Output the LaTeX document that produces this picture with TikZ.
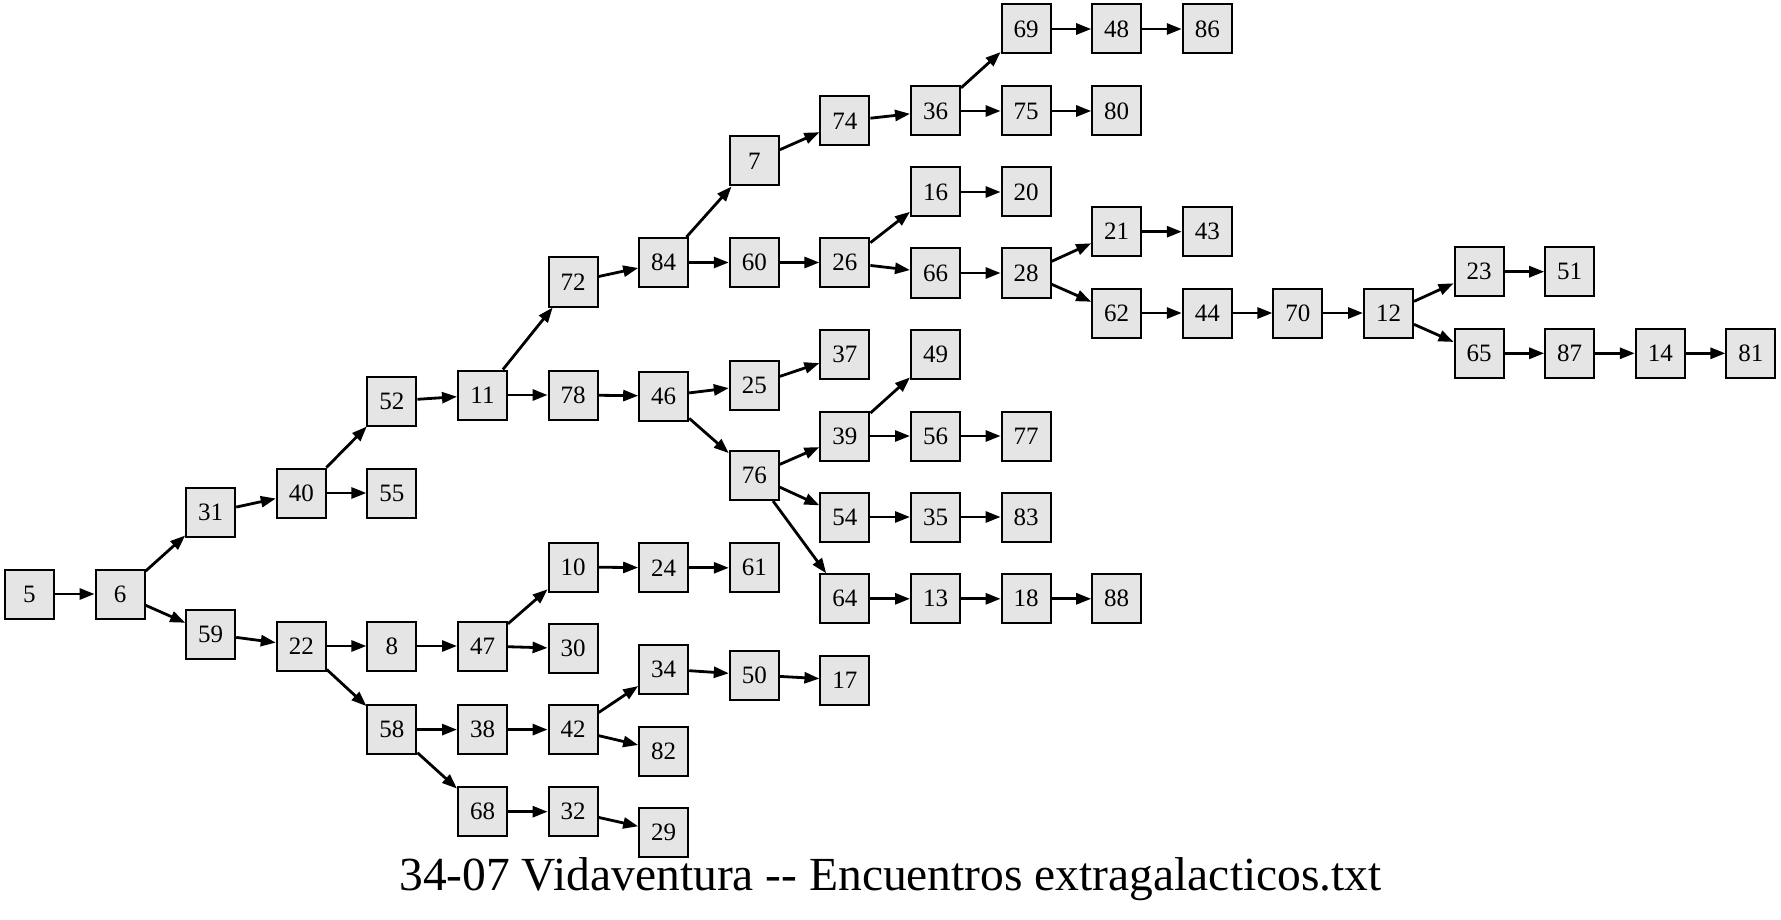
\documentclass[tikz,border=0pt]{standalone}
\usepackage{fontspec}
\setmainfont{Liberation Serif}
\usetikzlibrary{arrows.meta}
\tikzset{
  box/.style={draw=black, line width=2pt, fill=gray!20, minimum width=49pt, minimum height=49pt, inner sep=0pt, font=\fontsize{25}{27}\selectfont},
  edge/.style={line width=2.8pt, -{Triangle[length=15pt,width=11pt]}},
  titlestyle/.style={font=\fontsize{47.5}{50}\selectfont, inner sep=0pt, anchor=base}
}
\begin{document}
\begin{tikzpicture}[x=1pt,y=-1pt]
\useasboundingbox (0,0) rectangle (1781,920);
% column 0-3
\node[box] (n5) at (29.5,594) {5};
\node[box] (n6) at (120.1,594) {6};
\node[box] (n31) at (210.7,512.6) {31};
\node[box] (n59) at (210.7,634) {59};
\node[box] (n40) at (301.3,493) {40};
\node[box] (n22) at (301.3,646) {22};
% column 4
\node[box] (n52) at (391.9,401) {52};
\node[box] (n55) at (391.9,493) {55};
\node[box] (n8) at (391.9,646) {8};
\node[box] (n58) at (391.9,729.6) {58};
% column 5
\node[box] (n11) at (482.5,395) {11};
\node[box] (n47) at (482.5,646) {47};
\node[box] (n38) at (482.5,729.6) {38};
\node[box] (n68) at (482.5,811.7) {68};
% column 6
\node[box] (n72) at (573.1,282) {72};
\node[box] (n78) at (573.1,395) {78};
\node[box] (n10) at (573.1,567) {10};
\node[box] (n30) at (573.1,648.6) {30};
\node[box] (n42) at (573.1,729.6) {42};
\node[box] (n32) at (573.1,811.7) {32};
% column 7
\node[box] (n84) at (663.7,262.5) {84};
\node[box] (n46) at (663.7,396) {46};
\node[box] (n24) at (663.7,567.8) {24};
\node[box] (n34) at (663.7,669) {34};
\node[box] (n82) at (663.7,751) {82};
\node[box] (n29) at (663.7,832) {29};
% column 8
\node[box] (n7) at (754.3,161) {7};
\node[box] (n60) at (754.3,262.5) {60};
\node[box] (n25) at (754.3,385) {25};
\node[box] (n76) at (754.3,475.5) {76};
\node[box] (n61) at (754.3,567.8) {61};
\node[box] (n50) at (754.3,675) {50};
% column 9
\node[box] (n74) at (844.9,121) {74};
\node[box] (n26) at (844.9,262.5) {26};
\node[box] (n37) at (844.9,354.5) {37};
\node[box] (n39) at (844.9,436) {39};
\node[box] (n54) at (844.9,517) {54};
\node[box] (n64) at (844.9,598.8) {64};
\node[box] (n17) at (844.9,680) {17};
% column 10
\node[box] (n36) at (935.5,111) {36};
\node[box] (n16) at (935.5,192) {16};
\node[box] (n66) at (935.5,273) {66};
\node[box] (n49) at (935.5,354.5) {49};
\node[box] (n56) at (935.5,436) {56};
\node[box] (n35) at (935.5,517) {35};
\node[box] (n13) at (935.5,598.8) {13};
% column 11
\node[box] (n69) at (1026.1,29) {69};
\node[box] (n75) at (1026.1,111) {75};
\node[box] (n20) at (1026.1,192) {20};
\node[box] (n28) at (1026.1,273) {28};
\node[box] (n77) at (1026.1,436) {77};
\node[box] (n83) at (1026.1,517) {83};
\node[box] (n18) at (1026.1,598.8) {18};
% column 12
\node[box] (n48) at (1116.7,29) {48};
\node[box] (n80) at (1116.7,111) {80};
\node[box] (n21) at (1116.7,231.7) {21};
\node[box] (n62) at (1116.7,313) {62};
\node[box] (n88) at (1116.7,598.8) {88};
% column 13-19
\node[box] (n86) at (1207.3,29) {86};
\node[box] (n43) at (1207.3,231.7) {43};
\node[box] (n44) at (1207.3,313) {44};
\node[box] (n70) at (1297.9,313) {70};
\node[box] (n12) at (1388.5,313) {12};
\node[box] (n23) at (1479.1,271.7) {23};
\node[box] (n65) at (1479.1,353.3) {65};
\node[box] (n51) at (1569.7,271.7) {51};
\node[box] (n87) at (1569.7,353.3) {87};
\node[box] (n14) at (1660.3,353.3) {14};
\node[box] (n81) at (1750.9,353.3) {81};
% title
\node[titlestyle] (title) at (890.5,890) {34-07 Vidaventura {-}{-} Encuentros extragalacticos.txt};
% edges
\foreach \a/\b in {5/6,6/31,6/59,31/40,40/52,40/55,52/11,11/72,11/78,72/84,
  84/7,84/60,7/74,74/36,36/69,36/75,69/48,48/86,75/80,60/26,26/16,26/66,16/20,
  66/28,28/21,28/62,21/43,62/44,44/70,70/12,12/23,12/65,23/51,65/87,87/14,14/81,
  78/46,46/25,46/76,25/37,76/39,76/54,76/64,39/49,39/56,56/77,54/35,35/83,
  64/13,13/18,18/88,59/22,22/8,22/58,8/47,47/10,47/30,10/24,24/61,58/38,58/68,
  38/42,42/34,42/82,34/50,50/17,68/32,32/29}
  \draw[edge] (n\a) -- (n\b);
\end{tikzpicture}
\end{document}
